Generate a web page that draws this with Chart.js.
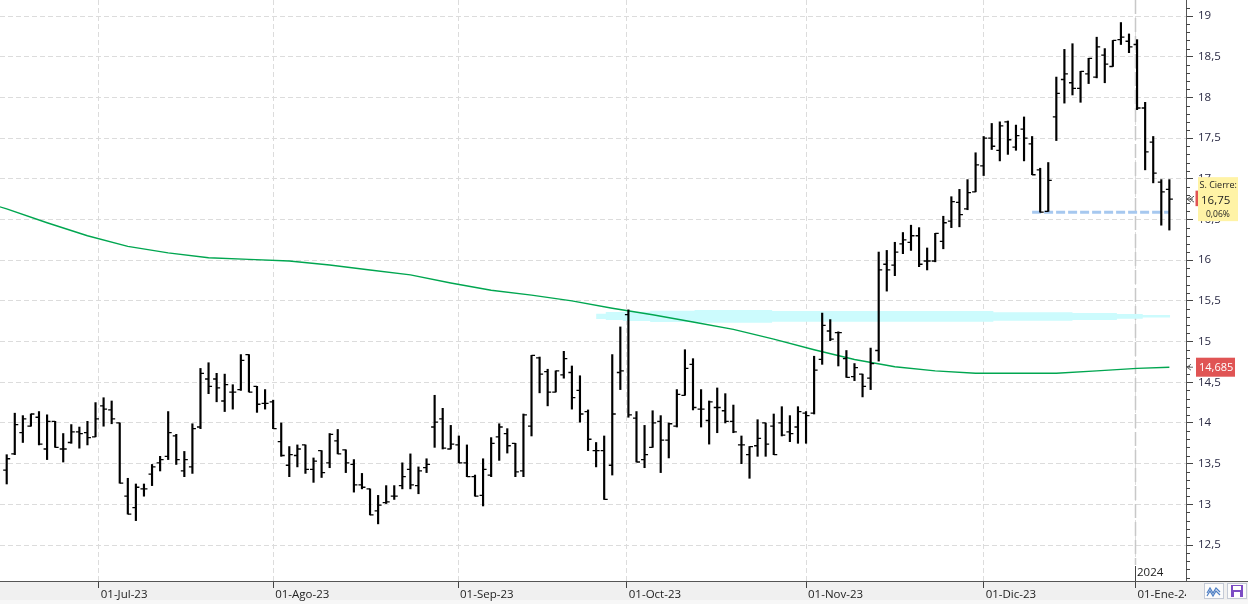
<!DOCTYPE html>
<html>
<head>
<meta charset="utf-8">
<script src="https://cdn.jsdelivr.net/npm/chart.js@4.4.1/dist/chart.umd.min.js"></script>
<style>
  html, body { margin: 0; padding: 0; background: #fff; }
  canvas { display: block; }
</style>
</head>
<body>
<canvas id="chart" width="1248" height="604"></canvas>
<script>
// sesiones diarias 15-jun-23 .. 08-ene-24 (una entrada por sesión)
const open = [
  13.42, 13.62, 13.88, 13.96, 14.07, 13.68, 14.02, 13.68, 13.76, 13.89,
  13.88, 13.83, 14.21, 14.16, 14.00, 13.10, 12.96, 13.19, 13.37, 13.51,
  13.59, 13.84, 13.41, 13.46, 13.95, 14.54, 14.54, 14.27, 14.38, 14.41,
  14.84, 14.45, 14.24, 14.26, 13.77, 13.48, 13.60, 13.73, 13.43, 13.66,
  13.51, 13.78, 13.67, 13.49, 13.24, 13.19, 12.92, 13.02, 13.10, 13.23,
  13.43, 13.23, 13.45, 13.95, 14.05, 13.68, 13.73, 13.51, 13.34, 13.11,
  13.36, 13.83, 13.87, 13.75, 13.41, 13.96, 14.80, 14.63, 14.38, 14.59,
  14.62, 14.40, 14.14, 13.66, 13.66, 13.48, 14.62, 15.33, 14.06, 13.55,
  13.70, 14.02, 13.79, 13.96, 14.34, 14.72, 14.17, 14.03, 14.19, 14.15,
  14.02, 13.73, 13.61, 13.72, 14.00, 13.96, 14.00, 13.89, 13.95, 14.12,
  14.12, 14.78, 15.13, 15.11, 14.79, 14.57, 14.60, 14.55, 14.89, 15.95,
  15.94, 16.20, 16.22, 16.30, 15.99, 15.99, 16.23, 16.48, 16.71, 16.63,
  16.84, 17.16, 17.50, 17.35, 17.70, 17.39, 17.61, 17.43, 17.11, 16.60,
  17.76, 18.22, 18.18, 18.11, 18.29, 18.25, 18.52, 18.38, 18.71, 18.69,
  18.65, 17.87, 17.45, 16.96, 16.87
];
const high = [
  13.61, 14.12, 14.09, 14.11, 14.14, 14.10, 14.02, 13.87, 13.98, 13.95,
  14.02, 14.25, 14.31, 14.27, 14.00, 13.32, 13.25, 13.25, 13.49, 13.59,
  14.14, 13.86, 13.65, 13.99, 14.67, 14.74, 14.61, 14.60, 14.47, 14.84,
  14.84, 14.45, 14.41, 14.28, 14.00, 13.71, 13.73, 13.73, 13.57, 13.66,
  13.87, 13.92, 13.67, 13.55, 13.38, 13.19, 13.11, 13.23, 13.23, 13.51,
  13.62, 13.46, 13.56, 14.34, 14.18, 13.97, 13.84, 13.73, 13.36, 13.56,
  13.82, 13.99, 13.93, 13.75, 14.11, 14.83, 14.81, 14.66, 14.64, 14.88,
  14.70, 14.58, 14.16, 13.76, 13.84, 14.84, 15.18, 15.39, 14.14, 13.97,
  14.15, 14.09, 14.00, 14.41, 14.90, 14.79, 14.41, 14.27, 14.43, 14.36,
  14.22, 13.84, 13.71, 14.04, 14.00, 14.11, 14.20, 14.09, 14.20, 14.14,
  14.82, 15.35, 15.27, 15.12, 14.89, 14.73, 14.60, 14.92, 16.10, 16.12,
  16.22, 16.34, 16.43, 16.40, 16.15, 16.33, 16.54, 16.78, 16.87, 16.99,
  17.32, 17.52, 17.68, 17.70, 17.71, 17.66, 17.76, 17.52, 17.13, 17.20,
  18.25, 18.59, 18.66, 18.32, 18.48, 18.74, 18.60, 18.70, 18.92, 18.78,
  18.71, 17.94, 17.52, 16.99, 16.99
];
const low = [
  13.25, 13.61, 13.76, 13.96, 13.73, 13.55, 13.70, 13.52, 13.75, 13.69,
  13.73, 13.83, 13.96, 13.99, 13.26, 12.88, 12.80, 13.10, 13.23, 13.41,
  13.55, 13.49, 13.34, 13.38, 13.93, 14.36, 14.26, 14.14, 14.17, 14.40,
  14.38, 14.13, 14.17, 13.93, 13.59, 13.34, 13.46, 13.38, 13.27, 13.33,
  13.45, 13.62, 13.39, 13.15, 13.19, 12.87, 12.76, 13.01, 13.06, 13.19,
  13.19, 13.13, 13.39, 13.70, 13.68, 13.68, 13.51, 13.34, 13.10, 12.98,
  13.34, 13.54, 13.63, 13.34, 13.34, 13.84, 14.37, 14.21, 14.38, 14.55,
  14.17, 14.01, 13.66, 13.46, 13.06, 13.36, 14.41, 14.07, 13.52, 13.45,
  13.70, 13.39, 13.57, 13.95, 14.34, 14.16, 13.95, 13.74, 13.88, 14.00,
  13.88, 13.50, 13.32, 13.59, 13.59, 13.61, 13.84, 13.77, 13.75, 13.75,
  14.11, 14.72, 15.01, 14.70, 14.56, 14.52, 14.32, 14.41, 14.76, 15.62,
  15.81, 16.08, 16.12, 15.92, 15.88, 15.98, 16.14, 16.40, 16.41, 16.62,
  16.84, 17.04, 17.36, 17.22, 17.30, 17.35, 17.22, 17.05, 16.59, 16.60,
  17.47, 17.93, 18.03, 17.94, 18.17, 18.24, 18.18, 18.38, 18.65, 18.55,
  17.85, 17.11, 16.95, 16.43, 16.37
];
const close = [
  13.56, 13.98, 14.05, 14.11, 13.74, 14.02, 13.70, 13.68, 13.89, 13.87,
  13.82, 14.05, 14.17, 14.05, 13.26, 12.88, 13.21, 13.19, 13.46, 13.55,
  13.88, 13.55, 13.55, 13.93, 14.61, 14.45, 14.43, 14.47, 14.38, 14.77,
  14.38, 14.23, 14.24, 13.93, 13.60, 13.61, 13.68, 13.43, 13.53, 13.39,
  13.86, 13.62, 13.51, 13.24, 13.21, 12.87, 12.99, 13.03, 13.10, 13.34,
  13.24, 13.41, 13.49, 14.01, 13.69, 13.74, 13.51, 13.34, 13.10, 13.43,
  13.75, 13.95, 13.72, 13.40, 14.10, 14.83, 14.60, 14.38, 14.64, 14.79,
  14.31, 14.11, 13.80, 13.66, 13.06, 14.11, 14.64, 14.10, 13.52, 13.61,
  14.00, 13.79, 13.99, 14.35, 14.67, 14.19, 14.17, 14.26, 14.19, 14.02,
  13.89, 13.73, 13.71, 13.81, 13.74, 13.61, 13.85, 13.87, 14.14, 14.09,
  14.65, 15.20, 15.03, 15.11, 14.56, 14.68, 14.45, 14.73, 15.88, 15.88,
  16.10, 16.25, 16.30, 15.95, 15.99, 16.33, 16.46, 16.72, 16.56, 16.83,
  17.17, 17.50, 17.40, 17.65, 17.48, 17.53, 17.50, 17.05, 16.59, 16.98,
  18.05, 18.29, 18.11, 18.32, 18.48, 18.62, 18.41, 18.70, 18.74, 18.62,
  17.87, 17.33, 17.07, 16.84, 16.75
];

// media móvil (sesión, valor)
const maIdx = [-1, 0, 5, 10, 15, 20, 25, 30, 35, 40, 45, 50, 55, 60, 65, 70, 75,
  80, 85, 90, 95, 100, 105, 110, 115, 120, 125, 130, 135, 140, 144];
const maVal = [16.66, 16.63, 16.46, 16.30, 16.17, 16.09, 16.03, 16.01, 15.99, 15.94,
  15.88, 15.82, 15.72, 15.63, 15.57, 15.50, 15.41, 15.33, 15.24, 15.15, 15.03,
  14.90, 14.78, 14.69, 14.64, 14.61, 14.61, 14.61, 14.64, 14.67, 14.685];

// zona de resistencia (banda cian)
const bandIdx = [73.0, 74.2, 76.3, 79.7, 85.2, 94.8, 122.2, 132.0, 137.5, 140.7, 142.8, 144.1];
const bandTop = [15.330, 15.342, 15.363, 15.366, 15.379, 15.387, 15.375, 15.359, 15.350, 15.338, 15.326, 15.326];
const bandBot = [15.298, 15.277, 15.264, 15.252, 15.240, 15.231, 15.244, 15.256, 15.264, 15.280, 15.295, 15.295];

// soporte (línea azul discontinua)
const supportIdx = [127, 144];
const supportVal = 16.59;

// ejes
const monthStarts = [11.4, 33, 55.9, 76.8, 99, 121, 139.8];
const monthLabels = ["01-Jul-23", "01-Ago-23", "01-Sep-23", "01-Oct-23", "01-Nov-23", "01-Dic-23", "01-Ene-24"];
const yearLabel = "2024";
const closeTitle = "S. Cierre:";
const changeLabel = "0,06%";

const fmt = (v) => String(v).replace(".", ",");
const font = { family: "Open Sans", size: 11.5 };

const bars = high.map((h, i) => ({ x: i, y: [low[i], h] }));
const maPts = maIdx.map((x, i) => ({ x, y: maVal[i] }));
const bandTopPts = bandIdx.map((x, i) => ({ x, y: bandTop[i] }));
const bandBotPts = bandIdx.map((x, i) => ({ x, y: bandBot[i] }));
const supportPts = supportIdx.map((x) => ({ x, y: supportVal }));

// fondo y barra inferior
const frame = {
  id: "frame",
  beforeDraw(chart) {
    const { ctx, width, chartArea } = chart;
    ctx.save();
    ctx.fillStyle = "#fff";
    ctx.fillRect(0, 0, width, chart.height);
    ctx.fillStyle = "#f0f0f0";
    ctx.fillRect(0, chartArea.bottom, width, 19);
    ctx.fillStyle = "#f7f7f7";
    ctx.fillRect(0, chartArea.bottom + 19, width, 4);
    ctx.restore();
  },
  beforeDatasetsDraw(chart) {
    // separador de año
    const { ctx, chartArea, scales: { x } } = chart;
    const px = Math.round(x.getPixelForValue(monthStarts[6])) + 0.5;
    ctx.save();
    ctx.strokeStyle = "#c8c8c8";
    ctx.lineWidth = 1.5;
    ctx.setLineDash([14, 4]);
    ctx.beginPath();
    ctx.moveTo(px, chartArea.top);
    ctx.lineTo(px, chartArea.bottom - 16);
    ctx.stroke();
    ctx.restore();
  },
};

// marcas de apertura / cierre
const ohlcTicks = {
  id: "ohlcTicks",
  afterDatasetsDraw(chart) {
    const { ctx, scales: { x, y } } = chart;
    ctx.save();
    ctx.strokeStyle = "#000";
    ctx.lineWidth = 1.3;
    for (let i = 0; i < open.length; i++) {
      const px = x.getPixelForValue(i);
      const yo = y.getPixelForValue(open[i]);
      const yc = y.getPixelForValue(close[i]);
      ctx.beginPath();
      ctx.moveTo(px - 3.5, yo);
      ctx.lineTo(px, yo);
      ctx.moveTo(px, yc);
      ctx.lineTo(px + 3.5, yc);
      ctx.stroke();
    }
    ctx.restore();
  },
};

function pointer(ctx, px, py, double) {
  ctx.beginPath();
  ctx.moveTo(px + 5, py - 3);
  ctx.lineTo(px + 1, py);
  ctx.lineTo(px + 5, py + 3);
  if (double) {
    ctx.moveTo(px + 8, py - 3);
    ctx.lineTo(px + 4, py);
    ctx.lineTo(px + 8, py + 3);
  }
  ctx.moveTo(px + 1, py);
  ctx.lineTo(px + 7, py);
  ctx.stroke();
}

// etiquetas del eje derecho, año e iconos
const overlay = {
  id: "overlay",
  afterDraw(chart) {
    const { ctx, width, chartArea, scales: { x, y } } = chart;
    const r = chartArea.right;
    const b = chartArea.bottom;
    ctx.save();

    // marcas menores del eje de precios
    ctx.strokeStyle = "#444";
    ctx.lineWidth = 1;
    for (let k = 121; k <= 191; k++) {
      if (k % 5 === 0) continue;
      const py = Math.round(y.getPixelForValue(k / 10)) + 0.5;
      ctx.beginPath();
      ctx.moveTo(r, py);
      ctx.lineTo(r + 4, py);
      ctx.stroke();
    }

    // recorte de la etiqueta final y línea del eje
    ctx.fillStyle = "#f0f0f0";
    ctx.fillRect(r, b + 1, width - r, 18);
    ctx.strokeStyle = "#555";
    ctx.beginPath();
    ctx.moveTo(0, b + 0.5);
    ctx.lineTo(width, b + 0.5);
    ctx.stroke();

    // año
    const yx = Math.round(x.getPixelForValue(monthStarts[6])) + 0.5;
    ctx.strokeStyle = "#444";
    ctx.beginPath();
    ctx.moveTo(yx, b - 15);
    ctx.lineTo(yx, b);
    ctx.stroke();
    ctx.fillStyle = "#222";
    ctx.font = "11.5px 'Open Sans'";
    ctx.textBaseline = "middle";
    ctx.textAlign = "left";
    ctx.fillText(yearLabel, yx + 1.5, b - 8.5);

    // media móvil: etiqueta roja
    const ym = y.getPixelForValue(maVal[maVal.length - 1]);
    ctx.strokeStyle = "#666";
    pointer(ctx, r, ym, false);
    ctx.fillStyle = "#e05454";
    ctx.fillRect(r + 10, ym - 9.5, 39, 19);
    ctx.fillStyle = "#fff";
    ctx.font = "11px 'Open Sans'";
    ctx.fillText(fmt(maVal[maVal.length - 1]), r + 13, ym + 0.5);

    // último cierre: etiqueta amarilla
    const last = close[close.length - 1];
    const yc = y.getPixelForValue(last);
    ctx.strokeStyle = "#555";
    pointer(ctx, r, yc, true);
    ctx.fillStyle = "#e05454";
    ctx.fillRect(r + 9.5, yc - 8.5, 4, 15.5);
    ctx.fillStyle = "#fff3a6";
    ctx.fillRect(r + 12, yc - 22, 40, 44);
    ctx.fillStyle = "#222";
    ctx.font = "9px 'Open Sans'";
    ctx.fillText(closeTitle, r + 13.5, yc - 13.5);
    ctx.font = "11.5px 'Open Sans'";
    ctx.fillText(fmt(last), r + 15, yc + 1.5);
    ctx.font = "8.5px 'Open Sans'";
    ctx.fillText(changeLabel, r + 20, yc + 15.5);

    // iconos inferiores
    ctx.fillStyle = "#fbfbfb";
    ctx.strokeStyle = "#c4cad6";
    ctx.fillRect(1204, b + 2, 20, 16);
    ctx.strokeRect(1204.5, b + 2.5, 19, 15);
    ctx.fillRect(1227, b + 2, 20, 16);
    ctx.strokeRect(1227.5, b + 2.5, 19, 15);
    ctx.strokeStyle = "#4f7fc4";
    ctx.lineWidth = 1.2;
    ctx.beginPath();
    ctx.moveTo(1207, b + 12);
    ctx.lineTo(1210, b + 7);
    ctx.lineTo(1213, b + 12);
    ctx.lineTo(1216, b + 7);
    ctx.lineTo(1220, b + 11);
    ctx.moveTo(1207, b + 15);
    ctx.lineTo(1210, b + 10);
    ctx.lineTo(1213, b + 15);
    ctx.lineTo(1216, b + 10);
    ctx.lineTo(1220, b + 14);
    ctx.stroke();
    ctx.fillStyle = "#7c4cc4";
    ctx.fillRect(1231, b + 4, 12, 12);
    ctx.fillStyle = "#fff";
    ctx.fillRect(1233, b + 5, 8, 4);
    ctx.fillRect(1234, b + 11, 6, 5);
    ctx.restore();
  },
};

new Chart(document.getElementById("chart"), {
  type: "bar",
  data: {
    datasets: [
      { type: "bar", data: bars, backgroundColor: "#000", barThickness: 1.5, order: 0 },
      {
        type: "line", data: supportPts, borderColor: "#a6c8ef", borderWidth: 3,
        borderDash: [9, 3], pointRadius: 0, order: 1,
      },
      {
        type: "line", data: maPts, borderColor: "#00a650", borderWidth: 1.4,
        pointRadius: 0, tension: 0, order: 2,
      },
      {
        type: "line", data: bandTopPts, stepped: "after", borderWidth: 0,
        pointRadius: 0, fill: "+1", backgroundColor: "#ccfbfd", order: 3,
      },
      {
        type: "line", data: bandBotPts, stepped: "after", borderWidth: 0,
        pointRadius: 0, fill: false, order: 4,
      },
    ],
  },
  options: {
    responsive: false,
    animation: false,
    events: [],
    layout: { padding: 0 },
    plugins: { legend: { display: false }, tooltip: { enabled: false } },
    scales: {
      x: {
        type: "linear",
        min: -0.83,
        max: 146.06,
        offset: false,
        afterBuildTicks: (s) => {
          s.ticks = monthStarts.map((v) => ({ value: v }));
        },
        afterFit: (s) => {
          s.height = 23;
          s.paddingLeft = 0;
          s.paddingRight = 0;
        },
        grid: { color: "#dcdcdc", offset: false, tickLength: 7, tickColor: "#444", tickWidth: 1 },
        border: { color: "#555", dash: [5, 3] },
        ticks: {
          autoSkip: false,
          maxRotation: 0,
          align: "start",
          labelOffset: 2,
          padding: 0,
          color: "#222",
          font,
          callback: (v, i) => monthLabels[i],
        },
      },
      y: {
        type: "linear",
        position: "right",
        min: 12.058,
        max: 19.197,
        afterFit: (s) => {
          s.width = 62;
          s.paddingTop = 0;
          s.paddingBottom = 0;
        },
        grid: { color: "#dcdcdc", tickLength: 7, tickColor: "#444", tickWidth: 1 },
        border: { color: "#555", dash: [5, 3] },
        ticks: {
          stepSize: 0.5,
          includeBounds: false,
          padding: 5,
          color: "#2a2a44",
          font,
          callback: (v) => fmt(v),
        },
      },
    },
  },
  plugins: [frame, ohlcTicks, overlay],
});
</script>
</body>
</html>
